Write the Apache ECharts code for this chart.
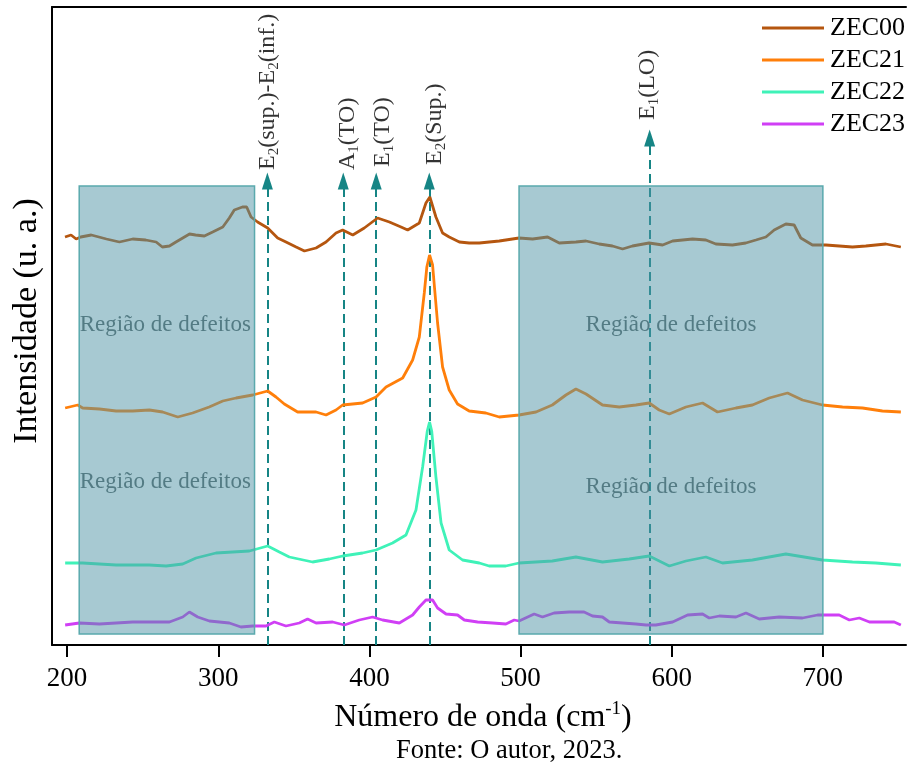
<!DOCTYPE html>
<html>
<head>
<meta charset="utf-8">
<script src="https://cdn.jsdelivr.net/npm/echarts@6/dist/echarts.min.js"></script>
<style>html,body{margin:0;padding:0;background:#fff;}#c{width:907px;height:763px;}</style>
</head>
<body>
<div id="c"></div>
<script>
const FONT = '"Liberation Serif", "Times New Roman", serif';

const zec00X = [198.6,202.6,206,209,216,226,234.6,243.4,252,258.9,263,267.7,272,281,285,290.8,296.3,303,307.3,310.6,316,318.8,321.7,326,332.7,339.3,344.8,351.5,357,364.7,371.3,377.9,382.3,389,396.6,405.4,413.2,420.9,425.3,433,437.4,440,444,448.4,452.8,459.5,466,472.7,485.9,499,508,517.9,525.6,536.6,543.3,552,560.8,567.5,574,585,594,600.6,613.8,622.6,629.2,640.2,649,655.7,662.3,667.8,675.5,681,685.4,693.1,702,710.8,719.6,728.4,741.7,751.6];
const zec00Y = [408,410,406,408,410,406,403,406,405,403,398,399,403,411,410,409,413,418,427,435,438,438,428,423,417,407,403,398,394,397,403,412,415,410,417,427,423,418,415,422,442,448,428,412,408,403,402,402,404,407,406,408,402,403,404,401,399,396,399,402,400,404,406,405,401,400,402,405,408,415,421,420,407,400,400,399,398,399,401,398];

const zec21X = [198.7,207,210.3,221.4,232.4,243.4,254.4,263.2,273.2,283,294,303,311.8,322.8,332.7,338.2,343.7,352.5,364.7,371.3,377.9,382.3,395.5,404.4,411,422,428.6,433,436.3,438,439.8,441.8,443.2,445.1,448.4,452.8,458.3,466,477,485.9,499,510.2,521,530,536.6,543.3,554.2,565.3,576.3,585.1,591.7,598.4,609.4,620.4,630.3,642.5,653.4,664.5,676.6,686.5,699.7,713,726.2,739.4,751.6];
const zec21Y = [237,240,237,236,234,234,235,233,228,232,238,244,247,250,254,248,241,233,233,230,235,240,242,248,258,267,285,308,352,378,390,380,355,322,278,255,241,234,232,228,230,233,240,250,256,251,240,238,240,242,235,231,238,242,233,237,240,247,252,245,240,238,237,234,233];

const zec22X = [198.7,210.3,232.4,254.4,265.5,276.5,285.3,298.5,309.5,320.6,332.7,340.4,347,362.4,373.5,382.3,395.5,404.4,415.3,424.2,430.8,435.2,438.3,439.8,441.2,444,447.4,452.8,461.6,472.7,479.2,490.2,499,521,536.6,554.2,571.9,585.1,598.4,609.4,622.6,633.6,653.4,675.5,699.7,719.6,735,751.6];
const zec22Y = [82,82,80,80,79,81,87,92,93,94,99,93,88,83,86,89,92,95,102,110,135,178,214,223,214,168,122,95,85,82,79,79,82,84,88,83,86,89,79,84,88,82,85,91,85,83,82,80];

const zec23X = [198.7,208.1,221.4,232.4,243.4,254.4,267.7,276.5,280.9,286.4,294.1,307.3,315,322.8,331.6,337.1,344.8,353.6,359.1,364.7,375.7,383.4,393.3,402.1,408.7,419.8,428.6,433,437.4,441.8,445.1,450.7,458.3,462.8,471.6,481.5,490.3,495.8,499,509,514.5,522.2,532.2,542,547.6,554.2,558.7,567.5,576.3,583,589.5,600.6,610.5,620.4,624.8,631.5,642.5,649.1,657.9,671.1,686.5,696.5,704.2,710.8,717.5,724.1,730.8,739.6,747.2,751.6];
const zec23Y = [20,22,21,22,23,23,23,28,33,28,24,22,18,19,19,23,19,22,26,22,23,20,25,28,25,22,30,38,45,45,37,31,30,25,23,22,21,25,24,31,28,32,33,33,29,28,23,22,21,20,20,23,30,31,27,29,28,32,26,28,27,30,30,30,25,27,23,23,23,20];

const seriesNames = ['ZEC00','ZEC21','ZEC22','ZEC23'];
const seriesColors = ['#b5560f','#ff7f0a','#3ff2b8','#d03ff5'];
const xTicks = [200,300,400,500,600,700];

// defect regions [x0, x1] and vertical span
const regionX = [[208,324],[499,700]];
const regionY = [11,459];
const regionTextX = [265,265,599.5,599.5];
const regionTextY = [320,163,320,158];

// phonon modes
const modeX = [332.5,382.7,404.5,439.6,585.4];
const modeArrowY = [464,464,464,464,507];
const modeLabelX = [332.5,385.5,408.5,443,584];
const modeLabelY = [475,475,478,480,525];
const modeLabels = [
  '{a|E}{s|2}{a|(sup.)-E}{s|2}{a|(inf.)}',
  '{a|A}{s|1}{a|(TO)}',
  '{a|E}{s|1}{a|(TO)}',
  '{a|E}{s|2}{a|(Sup.)}',
  '{a|E}{s|1}{a|(LO)}'
];

const zip = (xs, ys) => xs.map((x, i) => [x, ys[i]]);
const allX = [zec00X, zec21X, zec22X, zec23X];
const allY = [zec00Y, zec21Y, zec22Y, zec23Y];

const chart = echarts.init(document.getElementById('c'), null, {renderer: 'canvas'});

const lineSeries = seriesNames.map((n, i) => ({
  name: n, type: 'line', data: zip(allX[i], allY[i]),
  showSymbol: false, symbol: 'none', z: 2,
  lineStyle: {color: seriesColors[i], width: 2.8},
  itemStyle: {color: seriesColors[i]},
  animation: false
}));

const option = {
  animation: false,
  backgroundColor: '#fff',
  grid: {left: 52, right: 1, top: 7, bottom: 118, show: false, outerBoundsMode: 'none', containLabel: false},
  title: {text: 'Fonte: O autor, 2023.', left: 391, top: 733, textStyle: {fontFamily: FONT, fontSize: 26.5, fontWeight: 'normal', color: '#000'}},
  legend: {
    data: seriesNames, orient: 'vertical', left: 762, top: 15, icon: 'rect',
    itemWidth: 62, itemHeight: 3, itemGap: 6, padding: 0,
    textStyle: {fontFamily: FONT, fontSize: 26, color: '#000', lineHeight: 26, padding: [0,0,0,1]}
  },
  xAxis: [{
    type: 'value', min: 190, max: 755,
    name: '{a|Número de onda (cm}{sup|-1}{a|)}', nameLocation: 'middle', nameGap: 55,
    nameTextStyle: {padding: [0,0,0,8], rich: {a: {fontFamily: FONT, fontSize: 32, color: '#000', lineHeight: 36}, sup: {fontFamily: FONT, fontSize: 19, color: '#000', verticalAlign: 'top', lineHeight: 19}}},
    axisLine: {show: true, lineStyle: {color: '#000', width: 2}},
    axisTick: {show: true, customValues: xTicks, length: 12, inside: false, lineStyle: {color: '#000', width: 2}},
    axisLabel: {customValues: xTicks, fontFamily: FONT, fontSize: 27, color: '#000', margin: 20},
    splitLine: {show: false}
  }, {
    type: 'value', min: 190, max: 755, position: 'top',
    axisLine: {show: true, lineStyle: {color: '#000', width: 2}},
    axisTick: {show: false}, axisLabel: {show: false}, splitLine: {show: false}
  }],
  yAxis: {
    type: 'value', min: 0, max: 638,
    name: 'Intensidade (u. a.)', nameLocation: 'middle', nameGap: 8, nameRotate: 90,
    nameTextStyle: {fontFamily: FONT, fontSize: 34, color: '#000', padding: [0,0,0,10]},
    axisLine: {show: true, lineStyle: {color: '#000', width: 2}},
    axisTick: {show: false}, axisLabel: {show: false}, splitLine: {show: false}
  },
  series: [
    ...lineSeries,
    {
      type: 'line', data: [], z: 3, silent: true,
      markLine: {
        silent: true, z: 2, animation: false,
        lineStyle: {color: '#168585', width: 2, type: [9, 5]},
        label: {show: false},
        symbolSize: [11, 17],
        data: modeX.map((x, i) => [
          {coord: [x, 0], symbol: 'none'},
          {coord: [x, modeArrowY[i]], symbol: 'triangle'}
        ])
      }
    },
    {
      type: 'line', data: [], z: 4, silent: true,
      markArea: {
        silent: true, z: 4, animation: false,
        itemStyle: {color: 'rgba(79,148,166,0.5)', borderColor: '#5aa9ad', borderWidth: 1.5},
        data: regionX.map(r => [{coord: [r[0], regionY[0]]}, {coord: [r[1], regionY[1]]}])
      }
    },
    {
      type: 'scatter', z: 10, silent: true, symbolSize: 0,
      data: regionTextX.map((x, i) => [x, regionTextY[i]]),
      label: {show: true, position: 'inside', formatter: 'Região de defeitos', fontFamily: FONT, fontSize: 23, color: '#3e6870', align: 'center', verticalAlign: 'middle'}
    },
    {
      type: 'scatter', z: 10, silent: true, symbolSize: 0,
      data: modeLabelX.map((x, i) => ({value: [x, modeLabelY[i]], label: {formatter: modeLabels[i]}})),
      label: {
        show: true, position: 'inside', rotate: 90, align: 'left', verticalAlign: 'middle',
        rich: {
          a: {fontFamily: FONT, fontSize: 24, color: '#000', lineHeight: 28},
          s: {fontFamily: FONT, fontSize: 15, color: '#000', verticalAlign: 'bottom', lineHeight: 15}
        }
      }
    }
  ]
};
chart.setOption(option);
</script>
</body>
</html>
